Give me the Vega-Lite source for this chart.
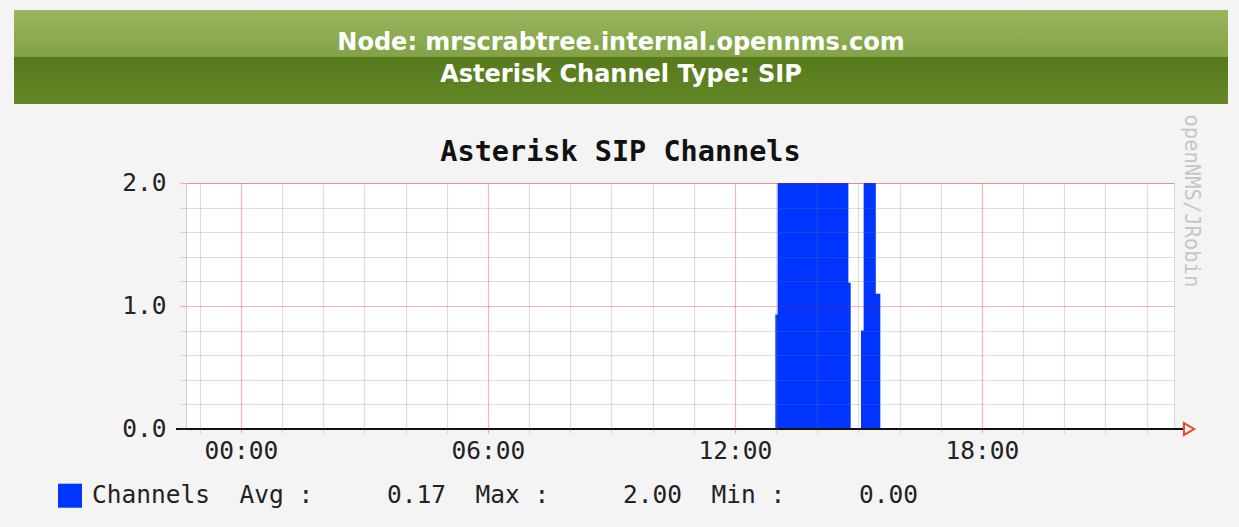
{
  "$schema": "https://vega.github.io/schema/vega-lite/v6.json",
  "background": "#f4f4f4",
  "padding": {"left": 14, "top": 10, "right": 11, "bottom": 0},
  "spacing": 9,
  "config": {"view": {"stroke": null}},
  "resolve": {"legend": {"color": "independent"}, "scale": {"color": "independent"}},
  "vconcat": [
    {
      "width": 1214,
      "height": 94,
      "view": {"stroke": null},
      "resolve": {"scale": {"y": "independent"}},
      "layer": [
        {
          "data": {"values": [{}]},
          "mark": {"type": "rect", "color": {"gradient": "linear", "x1": 0, "y1": 0, "x2": 0, "y2": 1, "stops": [{"offset": 0, "color": "#98b65d"}, {"offset": 1, "color": "#83a245"}]}},
          "encoding": {
            "y": {"datum": 1, "type": "quantitative", "scale": {"domain": [0, 2], "nice": false}, "axis": null},
            "y2": {"datum": 2}
          }
        },
        {
          "data": {"values": [{}]},
          "mark": {"type": "rect", "color": {"gradient": "linear", "x1": 0, "y1": 0, "x2": 0, "y2": 1, "stops": [{"offset": 0, "color": "#56791c"}, {"offset": 1, "color": "#648827"}]}},
          "encoding": {
            "y": {"datum": 0, "type": "quantitative", "scale": {"domain": [0, 2], "nice": false}, "axis": null},
            "y2": {"datum": 1}
          }
        },
        {
          "data": {"values": [
            {"line": "Node: mrscrabtree.internal.opennms.com", "row": 1},
            {"line": "Asterisk Channel Type: SIP", "row": 2}
          ]},
          "mark": {"type": "text", "font": "DejaVu Sans", "fontWeight": "bold", "fontSize": 24, "color": "#ffffff", "baseline": "middle"},
          "encoding": {
            "text": {"field": "line"},
            "y": {"field": "row", "type": "ordinal", "scale": {"type": "point", "padding": 0.96875, "align": 0.53}, "axis": null}
          }
        }
      ]
    },
    {
      "spacing": 0,
      "resolve": {"legend": {"color": "independent"}, "scale": {"color": "independent"}},
      "hconcat": [
        {
          "width": 0,
          "height": 1,
          "data": {"values": []},
          "mark": "point"
        },
        {
          "width": 988,
          "height": 246,
          "view": {"fill": "#ffffff", "stroke": "#d6d6d6"},
          "resolve": {"axis": {"x": "independent", "y": "independent"}},
          "layer": [
            {
              "data": {"values": [
                {"t": -1.336, "v": 0},
                {"t": 12.98, "v": 0.93},
                {"t": 13.035, "v": 2},
                {"t": 14.754, "v": 1.19},
                {"t": 14.81, "v": 0},
                {"t": 15.06, "v": 0.8},
                {"t": 15.125, "v": 2},
                {"t": 15.42, "v": 1.1},
                {"t": 15.53, "v": 0},
                {"t": 22.664, "v": 0}
              ]},
              "mark": {"type": "area", "interpolate": "step-after", "opacity": 1},
              "encoding": {
                "x": {
                  "field": "t", "type": "quantitative",
                  "scale": {"domain": [-1.336, 22.664], "nice": false, "zero": false},
                  "axis": {
                    "orient": "bottom",
                    "values": [-1, 0, 1, 2, 3, 4, 5, 6, 7, 8, 9, 10, 11, 12, 13, 14, 15, 16, 17, 18, 19, 20, 21, 22],
                    "labelExpr": "datum.value % 6 === 0 ? (datum.value < 10 ? '0' : '') + datum.value + ':00' : ''",
                    "title": null,
                    "grid": true,
                    "gridWidth": 1.2,
                    "gridColor": {"condition": {"test": "datum.value % 6 === 0", "value": "rgba(255,0,0,0.3)"}, "value": "rgba(120,120,120,0.25)"},
                    "ticks": true,
                    "tickSize": 4,
                    "tickWidth": 1.2,
                    "tickColor": {"condition": {"test": "datum.value % 6 === 0", "value": "rgba(255,0,0,0.3)"}, "value": "rgba(120,120,120,0.25)"},
                    "domain": false,
                    "labelFont": "DejaVu Sans Mono",
                    "labelFontSize": 24.5,
                    "labelColor": "#222222",
                    "labelPadding": 6,
                    "labelOverlap": false,
                    "labelFlush": false,
                    "zindex": 1
                  }
                },
                "y": {
                  "field": "v", "type": "quantitative",
                  "scale": {"domain": [0, 2], "nice": false},
                  "axis": {
                    "orient": "left",
                    "values": [0, 0.2, 0.4, 0.6, 0.8, 1, 1.2, 1.4, 1.6, 1.8, 2],
                    "labelExpr": "abs(datum.value - round(datum.value)) < 0.01 ? format(datum.value, '.1f') : ''",
                    "title": null,
                    "grid": true,
                    "gridWidth": 1.2,
                    "gridColor": {"condition": {"test": "datum.value === 1 || datum.value === 2", "value": "rgba(255,0,0,0.3)"}, "value": "rgba(120,120,120,0.25)"},
                    "gridOpacity": {"condition": {"test": "datum.value === 0", "value": 0}, "value": 1},
                    "ticks": true,
                    "tickSize": 6,
                    "tickWidth": 1.2,
                    "tickColor": {"condition": {"test": "datum.value === 1 || datum.value === 2", "value": "rgba(255,0,0,0.3)"}, "value": "rgba(120,120,120,0.25)"},
                    "domain": false,
                    "labelFont": "DejaVu Sans Mono",
                    "labelFontSize": 24.5,
                    "labelColor": "#222222",
                    "labelPadding": 14,
                    "labelOverlap": false,
                    "labelFlush": false,
                    "zindex": 1
                  }
                },
                "color": {
                  "datum": "Channels\u00a0\u00a0Avg\u00a0:\u00a0\u00a0\u00a0\u00a0\u00a00.17\u00a0\u00a0Max\u00a0:\u00a0\u00a0\u00a0\u00a0\u00a02.00\u00a0\u00a0Min\u00a0:\u00a0\u00a0\u00a0\u00a0\u00a00.00",
                  "type": "nominal",
                  "scale": {"range": ["#0035ff"]},
                  "legend": {
                    "orient": "none",
                    "legendX": -151,
                    "legendY": 277.7,
                    "padding": 22,
                    "title": null,
                    "symbolType": "square",
                    "symbolSize": 576,
                    "labelFont": "DejaVu Sans Mono",
                    "labelFontSize": 24.5,
                    "labelColor": "#222222",
                    "labelOffset": 9,
                    "labelLimit": 2000,
                    "encode": {"symbols": {"update": {"stroke": {"value": "#000000"}, "strokeWidth": {"value": 1.5}, "opacity": {"value": 1}}}}
                  }
                }
              }
            },
            {
              "data": {"values": [{}]},
              "mark": {"type": "rule", "color": "#111111", "strokeWidth": 2},
              "encoding": {
                "x": {"datum": -1.579, "type": "quantitative", "scale": {"domain": [-1.336, 22.664], "nice": false, "zero": false}, "axis": null},
                "x2": {"datum": 22.905},
                "y": {"datum": 0, "type": "quantitative", "scale": {"domain": [0, 2], "nice": false}, "axis": null}
              }
            },
            {
              "data": {"values": [{}]},
              "mark": {"type": "point", "shape": "triangle-right", "filled": false, "color": "#e4472b", "strokeWidth": 2, "size": 140, "opacity": 1},
              "encoding": {
                "x": {
                  "datum": 23.03, "type": "quantitative",
                  "scale": {"domain": [-1.336, 22.664], "nice": false, "zero": false},
                  "axis": {
                    "orient": "top", "labels": false, "ticks": false, "domain": false, "grid": false,
                    "title": "Asterisk SIP Channels",
                    "titleFont": "DejaVu Sans Mono", "titleFontSize": 28.5, "titleFontWeight": "bold", "titleColor": "#111111",
                    "titleX": 434, "titleY": -22.3, "titleAlign": "center", "titleBaseline": "alphabetic"
                  }
                },
                "y": {
                  "datum": 0, "type": "quantitative",
                  "scale": {"domain": [0, 2], "nice": false},
                  "axis": {
                    "orient": "right", "labels": false, "ticks": false, "domain": false, "grid": false,
                    "title": "openNMS/JRobin",
                    "titleFont": "DejaVu Sans Mono", "titleFontSize": 20.5, "titleFontWeight": "normal", "titleColor": "#c6c6c6",
                    "titleAngle": 90, "titleX": 16, "titleY": -69, "titleAlign": "left", "titleBaseline": "middle"
                  }
                }
              }
            }
          ]
        }
      ]
    }
  ]
}
